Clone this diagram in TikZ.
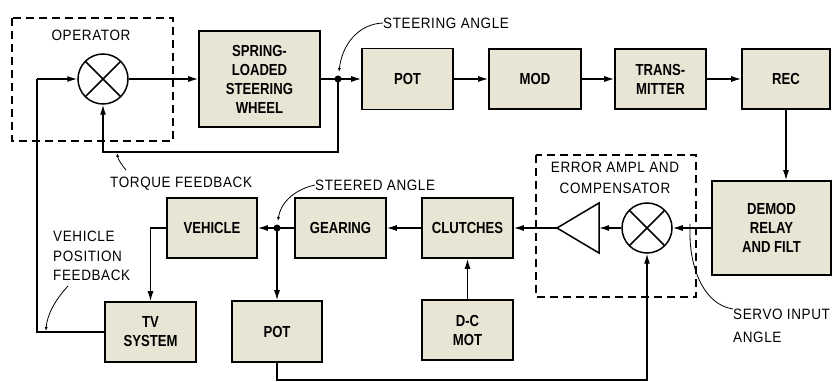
\documentclass[tikz,border=0pt]{standalone}
\usepackage{fontspec}
\setmainfont{Liberation Sans}
\newfontfamily\boxfont[FakeStretch=0.82]{Liberation Sans}
\newfontfamily\lblfont[FakeStretch=0.9,LetterSpace=4]{Liberation Sans}
\usetikzlibrary{arrows.meta}
\definecolor{boxfill}{RGB}{232,229,213}
\begin{document}
\begin{tikzpicture}[x=1pt,y=-1pt,
  blk/.style={draw, line width=1.6pt, fill=boxfill, font=\boxfont\bfseries\fontsize{16}{19}\selectfont,
    align=center, inner sep=0pt, minimum width=91pt, minimum height=60pt},
  sum/.style={circle, draw, line width=1.5pt, minimum size=50pt, inner sep=0pt,
    path picture={\draw[line width=1.5pt] (path picture bounding box.north west) -- (path picture bounding box.south east)
      (path picture bounding box.north east) -- (path picture bounding box.south west);}},
  conn/.style={line width=1.3pt},
  arr/.style={conn, -{Latex[length=10pt,width=6pt]}},
  lead/.style={line width=0.8pt, -{Latex[length=4pt,width=3pt]}},
  dbox/.style={line width=1.4pt, dash pattern=on 8pt off 5pt},
  lbl/.style={font=\lblfont\fontsize{15}{20}\selectfont, inner sep=0pt}]
\useasboundingbox (0,0) rectangle (833,382);
% dashed enclosures
\draw[dbox] (12,18) rectangle (173,141);
\draw[dbox] (536,155) rectangle (696,297);
% top row
\node[sum] (op) at (103,79) {};
\node[blk, minimum width=121pt, minimum height=96pt] (spring) at (259.5,79) {SPRING-\\LOADED\\STEERING\\WHEEL};
\node[blk, minimum height=61pt] (pot1) at (407.5,79) {POT};
\node[blk, minimum width=92pt] (mod) at (535,79) {MOD};
\node[blk] (trans) at (660.5,79) {TRANS-\\MITTER};
\node[blk, minimum width=88pt] (rec) at (786,79) {REC};
\node[blk, minimum width=119pt, minimum height=94pt] (demod) at (771.5,228) {DEMOD\\RELAY\\AND FILT};
% lower row
\node[sum] (err) at (647,228) {};
\coordinate (ampL) at (557,228);
\coordinate (ampR) at (599,228);
\draw[line width=1.5pt] (ampL) -- (599,203) -- (599,253) -- cycle;
\node[blk] (clutch) at (467.5,228) {CLUTCHES};
\node[blk] (dcmot) at (467.5,330) {D-C\\MOT};
\node[blk] (gear) at (340.5,228) {GEARING};
\node[blk, minimum width=90pt] (veh) at (212,228) {VEHICLE};
\node[blk] (tv) at (150.5,332) {TV\\SYSTEM};
\node[blk, minimum width=90pt, minimum height=61pt] (pot2) at (277,331.5) {POT};
% junctions
\coordinate (j1) at (338,79);
\coordinate (j2) at (277,228);
\coordinate (tf) at (103,152);
\coordinate (lin) at (37,79);
\coordinate (bl) at (277,380);
% connectors top
\draw[arr] (lin) -- (op.west);
\draw[arr] (op.east) -- (spring.west);
\draw[conn] (spring.east) -- (j1);
\draw[arr] (j1) -- (pot1.west);
\draw[arr] (pot1.east) -- (mod.west);
\draw[arr] (mod.east) -- (trans.west);
\draw[arr] (trans.east) -- (rec.west);
\draw[arr] (rec.south) -- (rec.south |- demod.north);
\draw[arr] (j1) |- (tf) -- (op.south);
\draw[conn] (lin) |- (tv.west);
% connectors bottom
\draw[arr] (demod.west) -- (err.east);
\draw[arr] (err.west) -- (ampR);
\draw[arr] (ampL) -- (clutch.east);
\draw[arr] (clutch.west) -- (gear.east);
\draw[arr] (dcmot.north) -- (clutch.south);
\draw[conn] (gear.west) -- (j2);
\draw[arr] (j2) -- (veh.east);
\draw[arr] (j2) -- (pot2.north);
\draw[arr] (veh.west) -| (tv.north);
\draw[arr] (pot2.south) -- (bl) -| (err.south);
\fill (j1) circle (3.5pt);
\fill (j2) circle (3.5pt);
% labels
\node[lbl] (lop) at (91,35) {OPERATOR};
\node[lbl, anchor=west] (lsa) at (383,23) {STEERING ANGLE};
\node[lbl, anchor=west] (ltf) at (110,184) {TORQUE FEEDBACK};
\node[lbl, anchor=west] (lsd) at (315,185) {STEERED ANGLE};
\node[lbl, align=left, anchor=north west, font=\lblfont\fontsize{15}{19.5}\selectfont] (lvp) at (53,231) {VEHICLE\\POSITION\\FEEDBACK};
\node[lbl, align=center, font=\lblfont\fontsize{15}{21}\selectfont] (lea) at (615,177.5) {ERROR AMPL AND\\COMPENSATOR};
\node[lbl, align=left, anchor=north west, font=\lblfont\fontsize{15}{23}\selectfont] (lsi) at (733,309) {SERVO INPUT\\ANGLE};
% leaders
\draw[lead] (lsa.west) .. controls (358,24) and (342,45) .. (339,72);
\draw[lead] (lsd.west) .. controls (292,190) and (280,205) .. (278,221);
\draw[lead] (126,170) .. controls (121,164) and (118,159) .. (117,153);
\draw[lead] (68,286) .. controls (55,300) and (47,315) .. (46,331);
\draw[line width=0.8pt] (690,224) -- (690,234) .. controls (690,270) and (705,305) .. (lsi.north west);
\end{tikzpicture}
\end{document}
